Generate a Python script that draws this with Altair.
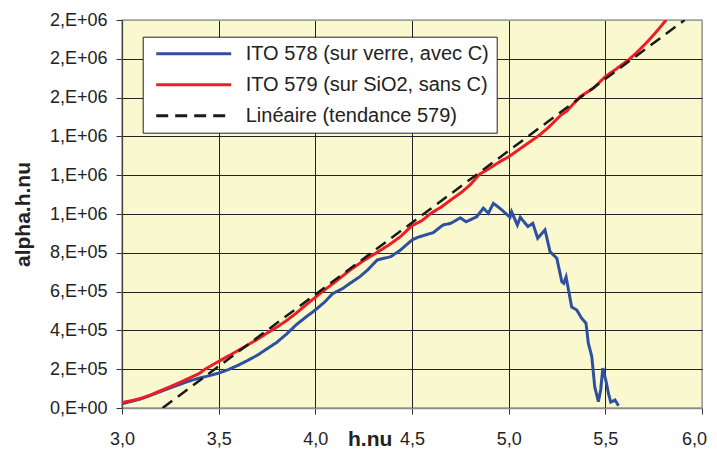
import altair as alt
import pandas as pd

# ---- data ----
x_578 = [3.00, 3.05, 3.10, 3.15, 3.20, 3.25, 3.30, 3.35, 3.40, 3.45, 3.50, 3.55, 3.60, 3.65,
         3.70, 3.75, 3.80, 3.85, 3.90, 3.95, 4.00, 4.05, 4.09, 4.14, 4.18, 4.23, 4.27, 4.32,
         4.39, 4.44, 4.50, 4.53, 4.61, 4.66, 4.70, 4.75, 4.78, 4.835, 4.869, 4.895, 4.921,
         4.96, 5.007, 5.015, 5.045, 5.06, 5.10, 5.125, 5.15, 5.188, 5.214, 5.249, 5.275,
         5.285, 5.297, 5.326, 5.352, 5.378, 5.400, 5.412, 5.430, 5.445, 5.464, 5.476, 5.487,
         5.504, 5.516, 5.528, 5.55, 5.568]
y_578 = [22e3, 34e3, 48e3, 66e3, 85e3, 104e3, 122e3, 140e3, 154e3, 166e3, 180e3, 198e3, 220e3, 245e3,
         272e3, 305e3, 338e3, 380e3, 428e3, 468e3, 505e3, 548e3, 590e3, 615e3, 643e3, 677e3, 711e3, 763e3,
         780e3, 814e3, 866e3, 880e3, 904e3, 943e3, 952e3, 980e3, 960e3, 986e3, 1030e3, 1004e3, 1055e3,
         1025e3, 983e3, 1012e3, 943e3, 983e3, 935e3, 952e3, 875e3, 918e3, 806e3, 772e3, 651e3,
         643e3, 676e3, 520e3, 505e3, 462e3, 437e3, 334e3, 265e3, 110e3, 33e3, 93e3, 206e3,
         136e3, 76e3, 30e3, 41e3, 12e3]

x_579 = [3.00, 3.05, 3.10, 3.15, 3.20, 3.25, 3.30, 3.35, 3.40, 3.43, 3.45, 3.50, 3.55, 3.60,
         3.65, 3.70, 3.75, 3.80, 3.85, 3.90, 3.95, 4.00, 4.03, 4.10, 4.18, 4.25, 4.30, 4.38,
         4.44, 4.50, 4.55, 4.60, 4.65, 4.70, 4.76, 4.80, 4.85, 4.90, 4.955, 5.00, 5.05, 5.10,
         5.16, 5.21, 5.27, 5.30, 5.37, 5.44, 5.50, 5.56, 5.63, 5.66, 5.71, 5.76, 5.815]
y_579 = [28e3, 38e3, 50e3, 68e3, 90e3, 110e3, 132e3, 155e3, 178e3, 200e3, 212e3, 240e3, 268e3, 296e3,
         325e3, 354e3, 386e3, 416e3, 450e3, 488e3, 530e3, 570e3, 595e3, 648e3, 711e3, 760e3, 790e3, 840e3,
         883e3, 940e3, 965e3, 1005e3, 1035e3, 1072e3, 1115e3, 1150e3, 1205e3, 1235e3, 1270e3, 1295e3, 1330e3, 1365e3,
         1407e3, 1450e3, 1510e3, 1530e3, 1605e3, 1650e3, 1708e3, 1750e3, 1803e3, 1830e3, 1880e3, 1935e3, 2000e3]

trend_x = [3.21, 5.91]
trend_y = [0.0, 2.0e6]

series_names = ["ITO 578 (sur verre, avec C)", "ITO 579 (sur SiO2, sans C)", "Linéaire (tendance 579)"]
series_colors = ["#2E50A2", "#EE1D25", "#1A1A1A"]
series_dashes = [[1, 0], [1, 0], [12, 7]]

x_ticks = [3.0, 3.5, 4.0, 4.5, 5.0, 5.5, 6.0]
x_tick_labels = ["3,0", "3,5", "4,0", "4,5", "5,0", "5,5", "6,0"]
y_ticks = [0, 2e5, 4e5, 6e5, 8e5, 1.0e6, 1.2e6, 1.4e6, 1.6e6, 1.8e6, 2.0e6]
y_tick_labels = ["0,E+00", "2,E+05", "4,E+05", "6,E+05", "8,E+05", "1,E+06",
                 "1,E+06", "1,E+06", "2,E+06", "2,E+06", "2,E+06"]

x_title = "h.nu"
y_title = "alpha.h.nu"

# ---- build table ----
frames = []
for name, xs, ys in zip(series_names, [x_578, x_579, trend_x], [y_578, y_579, trend_y]):
    frames.append(pd.DataFrame({"x": xs, "y": ys, "series": name}))
df = pd.concat(frames, ignore_index=True)


def label_expr(values, labels, tol):
    expr = "''"
    for v, lab in zip(reversed(values), reversed(labels)):
        expr = f"(abs(datum.value - ({v})) < {tol}) ? '{lab}' : ({expr})"
    return expr


FONT = "Liberation Sans"

legend = alt.Legend(
    title=None, orient="none", legendX=20.7, legendY=16.7,
    fillColor="white", strokeColor="#222222", padding=7,
    symbolType="stroke", symbolSize=5625, symbolStrokeWidth=3, symbolOffset=5,
    clipHeight=20, rowPadding=11, labelOffset=13,
    labelFont=FONT, labelFontSize=20, labelColor="#222222", labelLimit=600,
    labelExpr="datum.label + '    '",
)

color = alt.Color("series:N", scale=alt.Scale(domain=series_names, range=series_colors), legend=legend)
dash = alt.StrokeDash("series:N", scale=alt.Scale(domain=series_names, range=series_dashes), legend=legend)

x_enc = alt.X(
    "x:Q",
    scale=alt.Scale(domain=[3, 6], nice=False, zero=False),
    axis=alt.Axis(
        values=x_ticks, labelExpr=label_expr(x_ticks, x_tick_labels, 0.001),
        title=x_title, titleFont=FONT, titleFontSize=21, titleFontWeight="bold", titleColor="#222222",
        titleX=247.7, titleY=37, titleAlign="center", titleBaseline="alphabetic",
        labelFont=FONT, labelFontSize=18, labelColor="#222222", labelPadding=16,
        labelOffset={"condition": {"test": "datum.value > 5.99", "value": -8}, "value": 0},
        tickSize=6, tickColor="#333333", domainColor="#8C8C8C", domainWidth=1.5,
        grid=True, gridWidth=1,
        gridColor={"condition": {"test": "datum.value > 5.99", "value": "#A0A0A0"}, "value": "#222222"},
        labelOverlap=False, labelFlush=False,
    ),
)
y_enc = alt.Y(
    "y:Q",
    scale=alt.Scale(domain=[0, 2.0e6], nice=False),
    axis=alt.Axis(
        values=y_ticks, labelExpr=label_expr(y_ticks, y_tick_labels, 1),
        title=y_title, titleFont=FONT, titleFontSize=21, titleFontWeight="bold", titleColor="#222222",
        titleX=-93, titleY=194, titleAlign="center", titleBaseline="alphabetic", titleAngle=270,
        labelFont=FONT, labelFontSize=18, labelColor="#222222", labelPadding=9,
        tickSize=6, tickColor="#333333", domainColor="#404040", domainWidth=1.2,
        grid=True, gridWidth=1,
        gridColor={"condition": {"test": "datum.value > 1999999 || datum.value < 1", "value": "#A0A0A0"},
                   "value": "#222222"},
        labelOverlap=False, labelFlush=False,
    ),
)

base = alt.Chart(df).encode(x=x_enc, y=y_enc, color=color, strokeDash=dash)

layer_blue = base.transform_filter(alt.datum.series == series_names[0]).mark_line(strokeWidth=3, clip=True)
layer_red = base.transform_filter(alt.datum.series == series_names[1]).mark_line(strokeWidth=3, clip=True)
layer_trend = base.transform_filter(alt.datum.series == series_names[2]).mark_line(strokeWidth=2.5, clip=True)

chart = (
    alt.layer(layer_blue, layer_red, layer_trend)
    .properties(
        width=580, height=388,
        padding={"left": 114, "top": 12, "right": 7, "bottom": 41},
        autosize=alt.AutoSizeParams(type="none"),
        background="white",
    )
    .configure(font=FONT)
    .configure_view(fill="#FAF8CE", stroke="#A0A0A0", strokeWidth=1.5)
)

chart.save("out.html", embed_options={"renderer": "svg", "actions": False})
